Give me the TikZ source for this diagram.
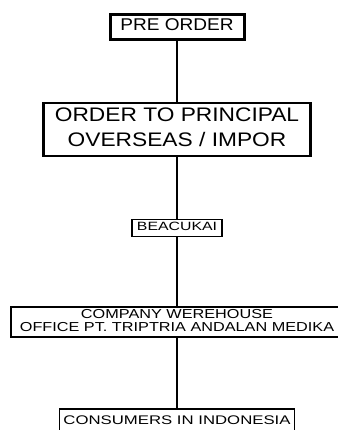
\documentclass[tikz,border=0pt]{standalone}
\usepackage{fontspec}
\setmainfont{Liberation Sans}
\usepackage{graphicx}
% wide caps text: x-stretch, size, line skip, lines
\newcommand{\stagetext}[4]{\scalebox{#1}[1]{\fontsize{#2}{#3}\selectfont\begin{tabular}{@{}c@{}}#4\end{tabular}}}
\tikzset{
    stage/.style={draw, inner sep=0pt},
    link/.style={line width=2.5pt},
}
\begin{document}
\begin{tikzpicture}[x=1pt, y=-1pt]
        \useasboundingbox (0, 0) rectangle (337, 430);
        \node[stage, line width=3pt, minimum width=134, minimum height=25] (pre) at (177, 27) {\stagetext{1.12}{17}{19}{PRE ORDER}};
        \node[stage, line width=2.4pt, minimum width=267, minimum height=53] (order) at (177, 129.5) {\stagetext{1.16}{19.6}{25}{ORDER TO PRINCIPAL\\OVERSEAS / IMPOR}};
        \node[stage, line width=1.5pt, minimum width=90, minimum height=17] (beacukai) at (177, 228) {\stagetext{1.32}{12}{12}{BEACUKAI}};
        \node[stage, line width=1.2pt, minimum width=332, minimum height=30] (warehouse) at (177, 322) {\stagetext{1.25}{13}{12.5}{COMPANY WEREHOUSE\\OFFICE PT. TRIPTRIA ANDALAN MEDIKA}};
        \node[stage, line width=1.5pt, minimum width=235, minimum height=25] (consumers) at (177, 421.5) {\stagetext{1.34}{12.5}{12}{CONSUMERS IN INDONESIA}};
        \draw[link] (pre) -- (order);
        \draw[link] (order) -- (beacukai);
        \draw[link] (beacukai) -- (warehouse);
        \draw[link] (warehouse) -- (consumers);
    \end{tikzpicture}
\end{document}
